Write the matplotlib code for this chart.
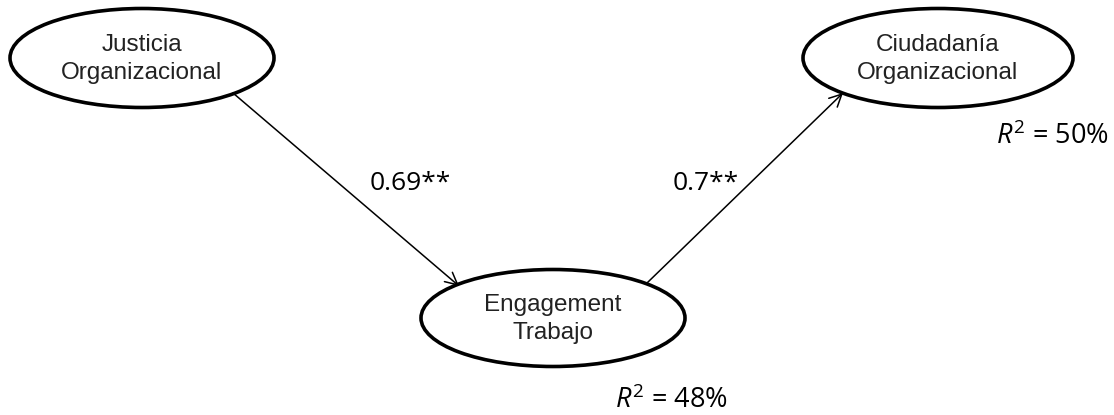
import matplotlib
matplotlib.use('Agg')
import matplotlib.pyplot as plt
from matplotlib.patches import Ellipse

plt.rcParams['mathtext.fontset'] = 'custom'
plt.rcParams['mathtext.it'] = 'Open Sans:italic'
plt.rcParams['mathtext.rm'] = 'Open Sans'

# Model content
nodes = ['Justicia\nOrganizacional', 'Engagement\nTrabajo', 'Ciudadanía\nOrganizacional']
paths = [(0, 1), (1, 2)]
coefs = ['0.69**', '0.7**']
r2_nodes = [2, 1]
r2_values = [50, 48]

# Layout (pixel coordinates, y downwards)
centers = [(142, 58), (553, 318), (938, 58)]
sizes = [(264, 99), (264, 97), (270, 99)]
arrow_pts = [((233, 93), (459, 286)), ((647, 283), (843, 93))]
coef_pos = [(410, 183), (706, 183)]
r2_pos = [(1052, 137), (671, 401)]

fig = plt.figure(figsize=(11.14, 4.15), dpi=100)
ax = fig.add_axes([0, 0, 1, 1])
ax.set_xlim(0, 1114)
ax.set_ylim(415, 0)
ax.axis('off')

for label, (cx, cy), (w, h) in zip(nodes, centers, sizes):
    ax.add_patch(Ellipse((cx, cy), w, h, facecolor='white', edgecolor='black', lw=2.6))
    ax.text(cx, cy + 1, label, ha='center', va='center', fontsize=17.5,
            family='Liberation Sans', color='#222222', linespacing=1.3)

for (start, end) in arrow_pts:
    ax.annotate('', xy=end, xytext=start,
                arrowprops=dict(arrowstyle='->', color='black', lw=1.1,
                                mutation_scale=22, shrinkA=0, shrinkB=0))

for txt, (x, y) in zip(coefs, coef_pos):
    ax.text(x, y, txt, ha='center', va='center', fontsize=19, family='Open Sans')

for val, (x, y) in zip(r2_values, r2_pos):
    ax.text(x, y, r'$R^{2}$' + f' = {val}%', ha='center', va='center', fontsize=19.5,
            family='Open Sans')

fig.savefig('out.png', dpi=100)
